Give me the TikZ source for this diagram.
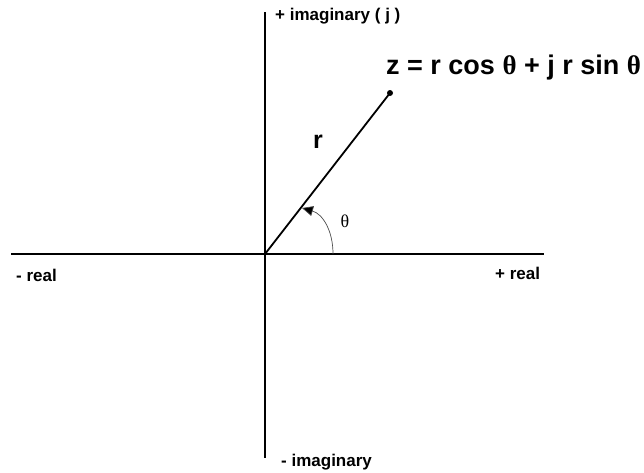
\documentclass[tikz,border=0pt]{standalone}
\usepackage{fontspec}
\setmainfont{Liberation Sans}
\newfontfamily\thfont{Liberation Serif}
\usetikzlibrary{arrows.meta}
\begin{document}
\begin{tikzpicture}[x=1pt,y=-1pt,
  axis/.style={line width=2.6pt},
  lbl/.style={font=\bfseries\fontsize{17}{20}\selectfont,inner sep=0pt,anchor=base west}]
\useasboundingbox (0,0) rectangle (644,472);
\coordinate (O) at (265,254);
\coordinate (L) at (11,254);
\coordinate (R) at (544,254);
\coordinate (T) at (265,12);
\coordinate (B) at (265,458);
\coordinate (A0) at (333,254);
\coordinate (A1) at (302,208);
\draw[axis] (L) -- (R);
\draw[axis] (T) -- (B);
\node[circle,fill,inner sep=0pt,minimum size=6pt] (P) at (390,93) {};
\draw[line width=1.8pt] (O) -- (P.center);
\draw[line width=0.7pt,draw=black!70,-{Triangle[length=11pt,width=10pt,fill=black]}] (A0) .. controls (333,231) and (323,214) .. (A1);
\node[lbl] (pim) at (275,20) {+ imaginary ( j )};
\node[lbl] (mim) at (281,466) {- imaginary};
\node[lbl] (mre) at (16,281) {- real};
\node[lbl] (pre) at (495,279) {+ real};
\node[font=\bfseries\fontsize{27}{30}\selectfont,inner sep=0pt,anchor=base west] (z) at (386,74) {z = r cos {\thfont θ} + j r sin {\thfont θ}};
\node[font=\bfseries\fontsize{25}{28}\selectfont,inner sep=0pt,anchor=base] (r) at (318,148) {r};
\node[font=\thfont\fontsize{18}{20}\selectfont,inner sep=0pt] (th) at (345,221) {θ};
\end{tikzpicture}
\end{document}
